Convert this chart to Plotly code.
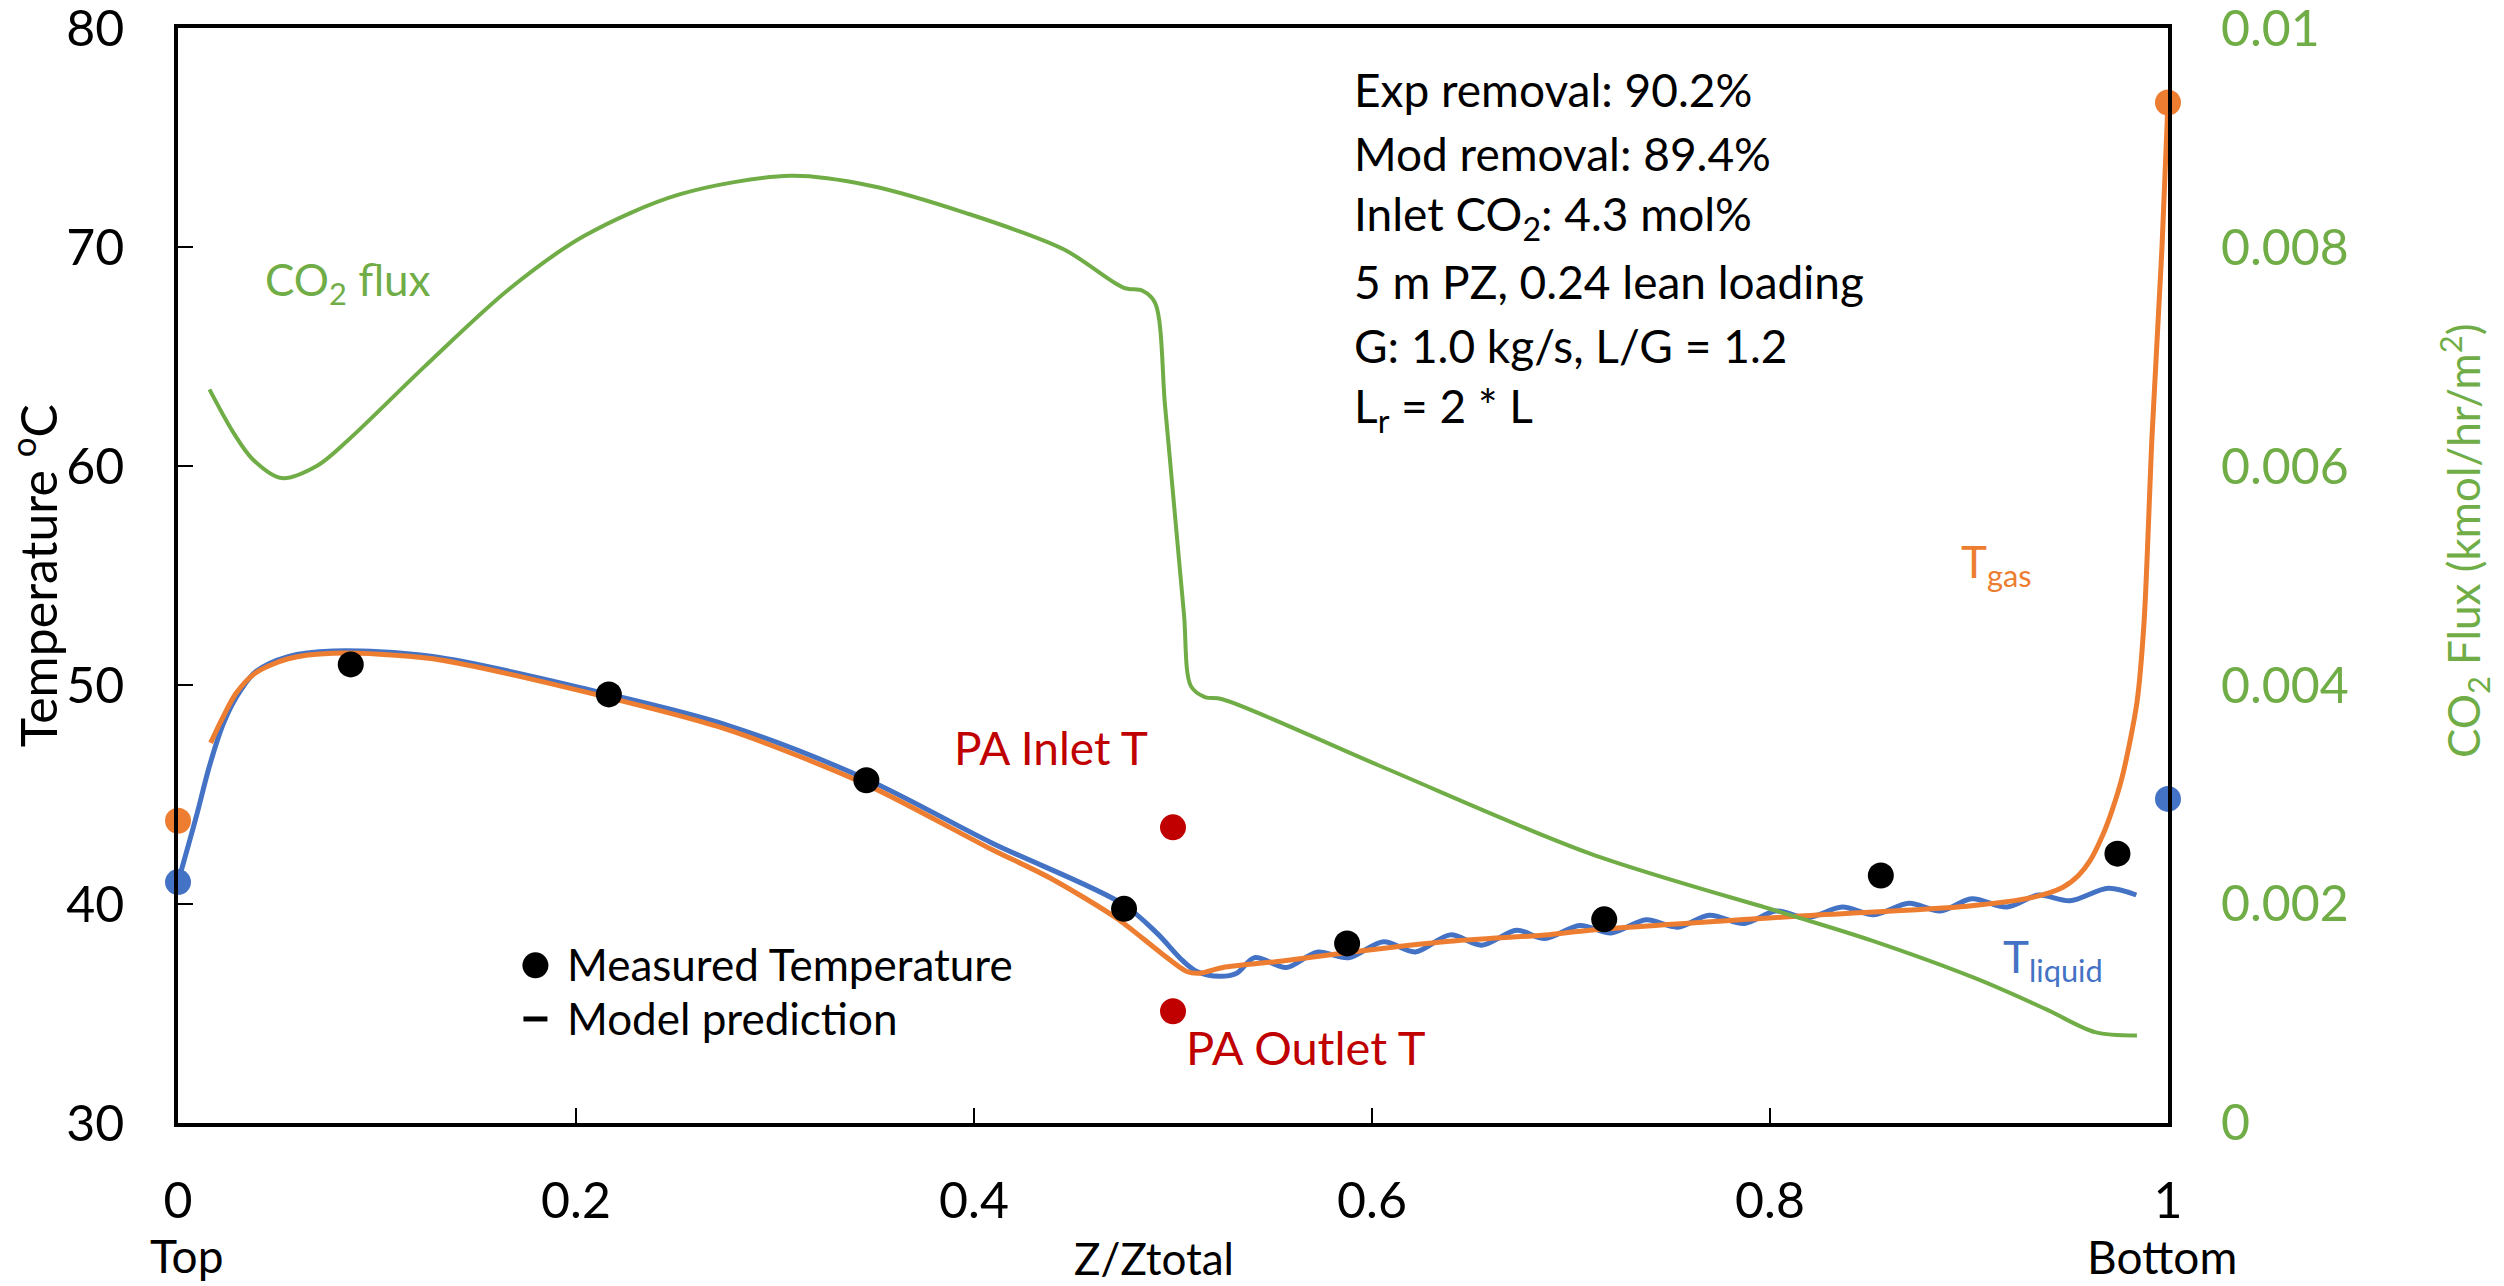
import plotly.graph_objects as go

# ---- data: profiles along the absorber, Z/Ztotal (0 = top, 1 = bottom) ----
# Measured temperature (deg C)
z_meas = [0.0868, 0.2165, 0.3459, 0.4754, 0.5875, 0.7167, 0.8557, 0.9746]
t_meas = [50.94, 49.57, 45.65, 39.78, 38.2, 39.3, 41.3, 42.3]

# Pump-around (intercooler) inlet / outlet temperature
z_pa = [0.5, 0.5]
t_pa = [43.5, 35.1]

# Model liquid temperature profile
z_liq = [0, 0.0092, 0.0158, 0.0224, 0.029, 0.0389, 0.0553, 0.078, 0.128,
         0.2106, 0.2766, 0.346, 0.4087, 0.4747, 0.4918, 0.505, 0.512,
         0.5234, 0.532, 0.541, 0.557, 0.5724, 0.5882, 0.6058, 0.6217,
         0.6393, 0.6551, 0.6727, 0.6868, 0.7044, 0.7202, 0.7378, 0.7536,
         0.7695, 0.7871, 0.8029, 0.8187, 0.8363, 0.8522, 0.8698, 0.8856,
         0.9014, 0.9190, 0.9349, 0.9507, 0.9700, 0.9841]
t_liq = [41.0, 44.0, 46.3, 48.15, 49.4, 50.6, 51.3, 51.55, 51.3,
         49.7, 48.15, 45.7, 42.8, 40.0, 38.68, 37.4, 36.92,
         36.7, 36.84, 37.55, 37.1, 37.8, 37.55, 38.28, 37.81,
         38.59, 38.12, 38.80, 38.42, 39.02, 38.68, 39.28, 38.94,
         39.49, 39.11, 39.68, 39.37, 39.86, 39.51, 40.03, 39.68,
         40.24, 39.86, 40.41, 40.15, 40.72, 40.41]

# Model gas temperature profile
z_gas = [0.0164, 0.0224, 0.029, 0.0389, 0.0553, 0.078, 0.128, 0.2106,
         0.2766, 0.346, 0.4087, 0.438, 0.4717, 0.4935, 0.5069, 0.5136,
         0.525, 0.555, 0.589, 0.639, 0.689, 0.7095, 0.815, 0.899, 0.932,
         0.947, 0.955, 0.961, 0.967, 0.972, 0.977, 0.9844, 0.988, 0.992,
         0.997, 1.0]
t_gas = [47.36, 48.5, 49.6, 50.55, 51.2, 51.45, 51.2, 49.55,
         47.95, 45.45, 42.5, 41.2, 39.35, 37.8, 36.92, 36.84,
         37.1, 37.4, 37.8, 38.3, 38.6, 38.8, 39.45, 39.9, 40.3,
         40.75, 41.3, 42.0, 43.1, 44.3, 45.8, 49.2, 52.9, 61.4,
         70.0, 76.6]

# Boundary temperatures (gas out/in, liquid in/out)
z_ends = [0, 1]
t_gas_ends = [43.8, 76.6]
t_liq_ends = [41.0, 44.8]

# Model CO2 flux (kmol/hr/m2)
z_flux = [0.0158, 0.028, 0.0376, 0.052, 0.0697, 0.0857, 0.124, 0.166,
          0.204, 0.252, 0.308, 0.348, 0.396, 0.445, 0.475, 0.4847, 0.491,
          0.496, 0.5003, 0.5055, 0.509, 0.516, 0.5248, 0.6041, 0.7096,
          0.8082, 0.8505, 0.9034, 0.9386, 0.9633, 0.9844]
co2_flux = [0.00670, 0.00630, 0.00606, 0.00589, 0.00600, 0.00624, 0.00691,
            0.00761, 0.00810, 0.00848, 0.00865, 0.00856, 0.00831, 0.00798,
            0.00763, 0.00760, 0.00749, 0.00655, 0.00569, 0.00465, 0.00399,
            0.00389, 0.00387, 0.00326, 0.00246, 0.00191, 0.00167, 0.00132,
            0.00104, 0.00083, 0.00080]

# Axis ticks
x_ticks = [0, 0.2, 0.4, 0.6, 0.8, 1]
x_tick_text = ["0", "0.2", "0.4", "0.6", "0.8", "1"]
t_ticks = [30, 40, 50, 60, 70, 80]
flux_ticks = [0, 0.002, 0.004, 0.006, 0.008, 0.01]
flux_tick_text = ["0", "0.002", "0.004", "0.006", "0.008", "0.01"]

info_lines = [
    "Exp removal: 90.2%",
    "Mod removal: 89.4%",
    "Inlet CO<sub>2</sub>: 4.3 mol%",
    "5 m PZ, 0.24 lean loading",
    "G: 1.0 kg/s, L/G = 1.2",
    "L<sub>r</sub> = 2 * L",
]

BLUE = "#4472C4"
ORANGE = "#ED7D31"
GREEN = "#70AD47"
RED = "#C00000"
FONT = "Lato"

fig = go.Figure()

fig.add_trace(go.Scatter(
    x=z_flux, y=co2_flux, yaxis="y2", mode="lines",
    line=dict(color=GREEN, width=4, shape="spline", smoothing=0.9),
    showlegend=False))

fig.add_trace(go.Scatter(
    x=z_liq, y=t_liq, mode="lines",
    line=dict(color=BLUE, width=5, shape="spline", smoothing=0.9),
    showlegend=False))

fig.add_trace(go.Scatter(
    x=z_gas, y=t_gas, mode="lines",
    line=dict(color=ORANGE, width=5, shape="spline", smoothing=0.8),
    showlegend=False))

fig.add_trace(go.Scatter(
    x=z_ends, y=t_gas_ends, mode="markers",
    marker=dict(color=ORANGE, size=26), cliponaxis=False, showlegend=False))
fig.add_trace(go.Scatter(
    x=z_ends, y=t_liq_ends, mode="markers",
    marker=dict(color=BLUE, size=26), cliponaxis=False, showlegend=False))

fig.add_trace(go.Scatter(
    x=z_pa, y=t_pa, mode="markers",
    marker=dict(color=RED, size=26), showlegend=False))

fig.add_trace(go.Scatter(
    x=z_meas, y=t_meas, mode="markers",
    marker=dict(color="black", size=26), showlegend=False))

ann = []


def label(x, y, text, color="black", size=44, xanchor="center", yanchor="middle"):
    ann.append(dict(x=x, y=y, xref="x", yref="y", text=text, showarrow=False,
                    xanchor=xanchor, yanchor=yanchor,
                    font=dict(family=FONT, size=size, color=color)))


def caption(x, y, text, color="black", size=46, angle=0):
    ann.append(dict(x=x, y=y, xref="paper", yref="paper", text=text,
                    textangle=angle, showarrow=False,
                    xanchor="center", yanchor="middle",
                    font=dict(family=FONT, size=size, color=color)))


# parameter block, top right
for i, line in enumerate(info_lines):
    label(0.590, 77.2 - i * 2.92, line, size=46, xanchor="left")

label(0.0854, 68.4, "CO<sub>2</sub> flux", color=GREEN)
label(0.4385, 47.15, "PA Inlet T", color=RED, size=46)
label(0.567, 33.45, "PA Outlet T", color=RED, size=47)
label(0.914, 55.5, "T<sub>gas</sub>", color=ORANGE)
label(0.942, 37.45, "T<sub>liquid</sub>", color=BLUE)

# legend text
label(0.1945, 37.25, "Measured Temperature", xanchor="left")
label(0.1945, 34.8, "Model prediction", xanchor="left")

# axis captions
caption(0.0045, -0.121, "Top")
caption(0.4907, -0.123, "Z/Ztotal", size=44)
caption(0.997, -0.122, "Bottom")
caption(-0.072, 0.5, "Temperature <sup>o</sup>C", size=50, angle=-90)
caption(1.149, 0.531, "CO<sub>2</sub> Flux (kmol/hr/m<sup>2</sup>)", color=GREEN,
        size=44, angle=-90)

shapes = [
    dict(type="circle", xref="x", yref="y", xsizemode="pixel", ysizemode="pixel",
         xanchor=0.1796, yanchor=37.2, x0=-13, x1=13, y0=-13, y1=13,
         fillcolor="black", line=dict(width=0)),
    dict(type="line", xref="x", yref="y", xsizemode="pixel",
         xanchor=0.1796, x0=-12, x1=12, y0=34.75, y1=34.75,
         line=dict(color="black", width=5)),
]

axis_common = dict(showgrid=False, zeroline=False, showline=True, linecolor="black",
                   linewidth=3.5, mirror=True, ticks="inside", ticklen=15,
                   tickwidth=1.5, tickcolor="black", ticklabeloverflow="allow",
                   automargin=False,
                   tickfont=dict(family=FONT, size=50, color="black"))

fig.update_layout(
    width=2504, height=1286, autosize=False,
    margin=dict(l=178, r=336, t=28, b=163, pad=0, autoexpand=False),
    paper_bgcolor="white", plot_bgcolor="white",
    font=dict(family=FONT),
    xaxis=dict(range=[-0.00001, 1.00001], tickvals=x_ticks, ticktext=x_tick_text,
               ticklabelstandoff=31, **axis_common),
    yaxis=dict(range=[29.9999, 80.0001], tickvals=t_ticks, ticklabelstandoff=40,
               **axis_common),
    yaxis2=dict(overlaying="y", side="right", range=[-0.0000001, 0.0100001],
                tickvals=flux_ticks, ticktext=flux_tick_text, showgrid=False,
                zeroline=False, showline=False, ticks="", ticklabelstandoff=52,
                ticklabeloverflow="allow", automargin=False,
                tickfont=dict(family=FONT, size=50, color=GREEN)),
    annotations=ann,
    shapes=shapes,
    showlegend=False,
)

fig.write_html("out.html")
